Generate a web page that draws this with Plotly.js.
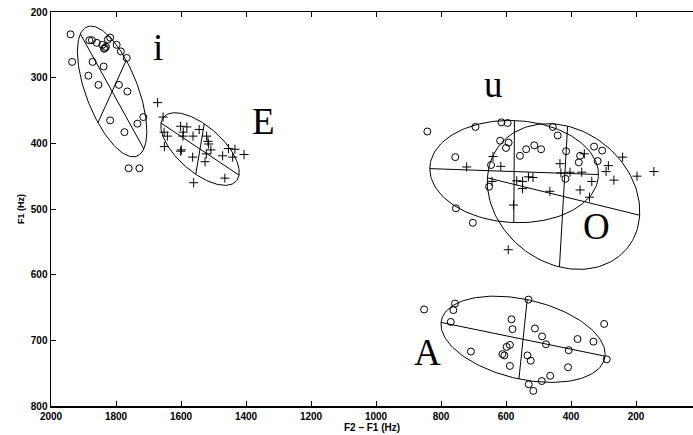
<!DOCTYPE html>
<html>
<head>
<meta charset="utf-8">
<script src="https://cdn.plot.ly/plotly-3.0.1.min.js"></script>
<style>html,body{margin:0;padding:0;background:#fff;}#chart{width:693px;height:435px;}</style>
</head>
<body>
<div id="chart"></div>
<script>
// ---- vowel /i/ (circles) ----
var iX = [1940,1935,1882,1874,1859,1842,1834,1837,1831,1825,1818,1798,1785,1767,1872,1838,1885,1854,1791,1765,1818,1774,1734,1716,1761,1728];
var iY = [234,276,243,243,247,250,255,256,253,242,239,250,260,270,276,283,297,311,311,321,365,383,370,360,438,438];
// ---- vowel /E/ (crosses) ----
var eX = [1672,1655,1652,1642,1651,1601,1582,1593,1594,1563,1544,1521,1517,1515,1508,1522,1601,1599,1564,1526,1472,1454,1434,1441,1406,1465,1561];
var eY = [338,360,383,389,405,374,375,383,389,389,379,389,397,401,410,416,412,410,421,428,419,408,409,421,417,453,460];
// ---- vowel /u/ (circles) ----
var uX = [842,694,614,595,618,592,600,557,538,513,492,456,441,415,372,376,329,304,318,417,756,646,652,754,702];
var uY = [382,375,368,369,396,399,407,419,409,403,409,375,388,412,419,429,405,411,427,454,421,433,466,499,521];
// ---- vowel /O/ (crosses) ----
var oX = [721,640,616,643,567,549,549,531,517,577,593,465,434,431,403,367,336,372,343,359,292,285,268,241,197,145];
var oY = [436,420,435,458,457,458,469,451,452,494,562,473,431,445,444,444,458,471,482,416,443,434,456,421,450,443];
// ---- vowel /A/ (circles) ----
var aX = [852,757,762,770,531,583,580,511,489,477,407,380,331,298,290,708,611,605,598,588,534,524,588,409,464,490,530,516];
var aY = [653,644,654,672,638,668,683,682,694,706,715,698,702,675,729,717,721,723,710,707,723,731,739,741,754,762,767,777];

// ---- dispersion ellipses: centre, major half-axis vector, minor half-axis vector ----
var ellNames = ['i','E','u','O','A'];
var ellCx = [1812, 1541.5, 575, 423, 547.5];
var ellCy = [321, 408.7, 443, 481, 698.4];
var ellUx = [97.5, 120, 259.5, 234.3, 252.3];
var ellUy = [-87.5, -39.7, -4.5, -28.5, -25.7];
var ellVx = [43.5, 13.1, 1, -12.6, -12.7];
var ellVy = [47.5, 38.5, 77.7, -107.2, -60.4];

// ---- vowel labels ----
var labText = ['i','E','u','O','A'];
var labX = [1670, 1345, 638, 321, 842];
var labY = [254, 366, 311, 526, 718];

var xTicks = [2000,1800,1600,1400,1200,1000,800,600,400,200];
var yTicks = [200,300,400,500,600,700,800];

var traces = [];
function pts(x, y, sym, sz) {
  return {x:x, y:y, type:'scatter', mode:'markers', hoverinfo:'skip', showlegend:false,
    marker:{symbol:sym, size:sz, color:'#000', line:{color:'#000', width:1}}};
}
traces.push(pts(iX, iY, 'circle-open', 7));
traces.push(pts(eX, eY, 'cross-thin-open', 6.5));
traces.push(pts(uX, uY, 'circle-open', 7));
traces.push(pts(oX, oY, 'cross-thin-open', 6.5));
traces.push(pts(aX, aY, 'circle-open', 7));

for (var k = 0; k < ellCx.length; k++) {
  var ex = [], ey = [];
  var N = 160;
  for (var j = 0; j <= N; j++) {
    var t = 2 * Math.PI * j / N;
    ex.push(ellCx[k] + ellUx[k] * Math.cos(t) + ellVx[k] * Math.sin(t));
    ey.push(ellCy[k] + ellUy[k] * Math.cos(t) + ellVy[k] * Math.sin(t));
  }
  var line = {color:'#000', width:1};
  traces.push({x:ex, y:ey, type:'scatter', mode:'lines', line:line, hoverinfo:'skip', showlegend:false});
  traces.push({x:[ellCx[k]-ellUx[k], ellCx[k]+ellUx[k]], y:[ellCy[k]-ellUy[k], ellCy[k]+ellUy[k]],
    type:'scatter', mode:'lines', line:line, hoverinfo:'skip', showlegend:false});
  traces.push({x:[ellCx[k]-ellVx[k], ellCx[k]+ellVx[k]], y:[ellCy[k]-ellVy[k], ellCy[k]+ellVy[k]],
    type:'scatter', mode:'lines', line:line, hoverinfo:'skip', showlegend:false});
}

var annotations = [];
for (var m = 0; m < labText.length; m++) {
  annotations.push({x:labX[m], y:labY[m], xref:'x', yref:'y', text:labText[m], showarrow:false,
    xanchor:'center', yanchor:'middle', font:{family:'Liberation Serif, Times New Roman, serif', size:37, color:'#000'}});
}

var axisFont = {family:'Liberation Sans, Arial, sans-serif', size:10, color:'#000', weight:'bold'};
var layout = {
  width:693, height:435,
  margin:{l:51, r:0, t:12, b:29, pad:0},
  paper_bgcolor:'#fff', plot_bgcolor:'#fff',
  showlegend:false, hovermode:false,
  xaxis:{range:[2000, 24.6], tickvals:xTicks, ticktext:xTicks.map(String), ticks:'inside', ticklen:5, tickwidth:1,
    tickcolor:'#000', showline:true, linecolor:'#000', linewidth:1.5, mirror:'ticks', showgrid:false, zeroline:false,
    tickfont:axisFont, title:{text:'F2 \u2013 F1 (Hz)', font:{family:'Liberation Sans, Arial, sans-serif', size:10, color:'#000', weight:'bold'}, standoff:3}},
  yaxis:{range:[800, 200], tickvals:yTicks, ticktext:yTicks.map(String), ticks:'inside', ticklen:5, tickwidth:1,
    tickcolor:'#000', showline:true, linecolor:'#000', linewidth:1.5, showgrid:false, zeroline:false,
    tickfont:axisFont, title:{text:'F1 (Hz)', font:{family:'Liberation Sans, Arial, sans-serif', size:9, color:'#000', weight:'bold'}, standoff:4}},
  annotations:annotations
};
Plotly.newPlot('chart', traces, layout, {staticPlot:true, displayModeBar:false});
</script>
</body>
</html>
